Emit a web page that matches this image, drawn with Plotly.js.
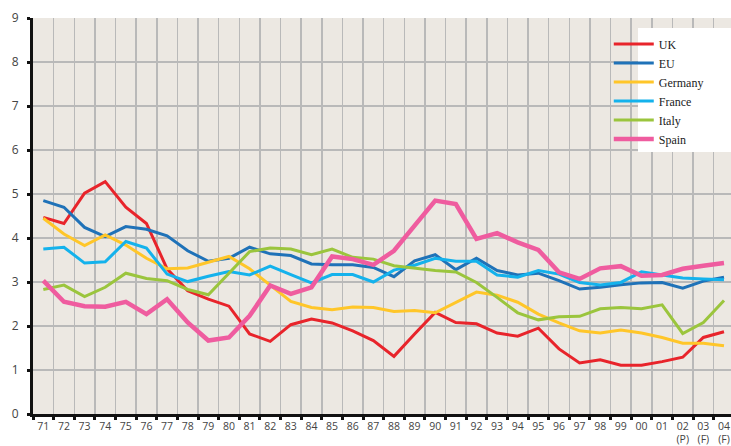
<!DOCTYPE html>
<html>
<head>
<meta charset="utf-8">
<script src="https://cdn.plot.ly/plotly-3.0.1.min.js"></script>
<style>html,body{margin:0;padding:0;background:#fff;}#chart{width:731px;height:446px;}</style>
</head>
<body>
<div id="chart"></div>
<script>
const years = ['71','72','73','74','75','76','77','78','79','80','81','82','83','84','85','86','87','88','89','90','91','92','93','94','95','96','97','98','99','00','01','02<br>(P)','03<br>(F)','04<br>(F)'];

const uk      = [4.47,4.33,5.02,5.28,4.70,4.33,3.30,2.80,2.61,2.45,1.82,1.65,2.03,2.16,2.07,1.89,1.67,1.31,1.82,2.31,2.08,2.05,1.84,1.77,1.95,1.48,1.16,1.23,1.11,1.11,1.19,1.29,1.74,1.87];
const eu      = [4.85,4.70,4.24,4.03,4.26,4.20,4.05,3.71,3.47,3.54,3.79,3.64,3.60,3.41,3.39,3.39,3.33,3.12,3.48,3.62,3.28,3.54,3.26,3.16,3.20,3.03,2.84,2.88,2.94,2.98,2.99,2.86,3.02,3.11];
const germany = [4.45,4.09,3.83,4.07,3.84,3.54,3.30,3.32,3.45,3.58,3.30,2.93,2.56,2.42,2.37,2.43,2.42,2.33,2.35,2.30,2.54,2.77,2.70,2.54,2.27,2.07,1.89,1.84,1.91,1.84,1.74,1.61,1.61,1.55];
const france  = [3.75,3.79,3.43,3.46,3.92,3.77,3.18,3.01,3.13,3.24,3.16,3.36,3.17,2.98,3.17,3.17,3.00,3.27,3.38,3.54,3.47,3.47,3.16,3.11,3.26,3.18,2.99,2.93,2.99,3.23,3.16,3.09,3.07,3.05];
const italy   = [2.83,2.93,2.67,2.88,3.20,3.08,3.03,2.83,2.71,3.20,3.69,3.77,3.75,3.62,3.75,3.56,3.52,3.37,3.31,3.26,3.23,2.99,2.65,2.30,2.14,2.21,2.22,2.39,2.42,2.39,2.48,1.83,2.08,2.58];
const spain   = [3.03,2.55,2.45,2.44,2.55,2.27,2.61,2.08,1.67,1.74,2.23,2.92,2.73,2.88,3.58,3.52,3.39,3.71,4.28,4.85,4.77,3.98,4.11,3.90,3.73,3.22,3.07,3.31,3.36,3.14,3.16,3.30,3.37,3.43];

const seriesNames  = ['UK','EU','Germany','France','Italy','Spain'];
const seriesValues = [uk, eu, germany, france, italy, spain];
const seriesColors = ['#e8242b','#1f72b8','#ffc629','#14b2ec','#9bc53d','#ef5c9f'];
const seriesWidths = [3,3,3,3,3,4.5];

const traces = seriesNames.map((n,i) => ({
  type:'scatter', mode:'lines', name:n, x:years, y:seriesValues[i],
  line:{color:seriesColors[i], width:seriesWidths[i]}
}));

const layout = {
  width:731, height:446,
  margin:{l:33, r:0, t:18, b:32},
  paper_bgcolor:'#ffffff',
  plot_bgcolor:'#ece8e2',
  font:{family:'Open Sans, sans-serif', size:11, color:'#444'},
  showlegend:true,
  legend:{
    x:603/731, xanchor:'left', y:1-13/446, yanchor:'top',
    bgcolor:'rgba(0,0,0,0)', borderwidth:0,
    itemwidth:40,
    font:{family:'Liberation Serif, serif', size:12, color:'#222'},
    tracegroupgap:0
  },
  xaxis:{
    type:'category', categoryorder:'array', categoryarray:years,
    range:[-0.5, 33.34],
    tickson:'boundaries',
    tickangle:0,
    showgrid:true, gridcolor:'#b9b9b9', gridwidth:1.5,
    showline:true, linecolor:'#111', linewidth:3,
    ticks:'outside', ticklen:3, tickwidth:3, tickcolor:'#111',
    tickfont:{size:10.5, color:'#444'},
    ticklabelstandoff:0,
    fixedrange:true
  },
  yaxis:{
    range:[0,9], dtick:1, tick0:0,
    showgrid:true, gridcolor:'#b9b9b9', gridwidth:1.5,
    zeroline:false,
    showline:true, linecolor:'#111', linewidth:3,
    ticks:'outside', ticklen:3, tickwidth:3, tickcolor:'#111',
    tickfont:{size:12, color:'#444'},
    ticklabelstandoff:6,
    fixedrange:true
  },
  shapes:[{
    type:'rect', xref:'paper', yref:'paper', layer:'above',
    x0:(638-33)/698, x1:1.01, y0:(414-152)/396, y1:(414-28)/396,
    fillcolor:'#ffffff', line:{width:0}
  }]
};

Plotly.newPlot('chart', traces, layout, {displayModeBar:false, staticPlot:true});
</script>
</body>
</html>
